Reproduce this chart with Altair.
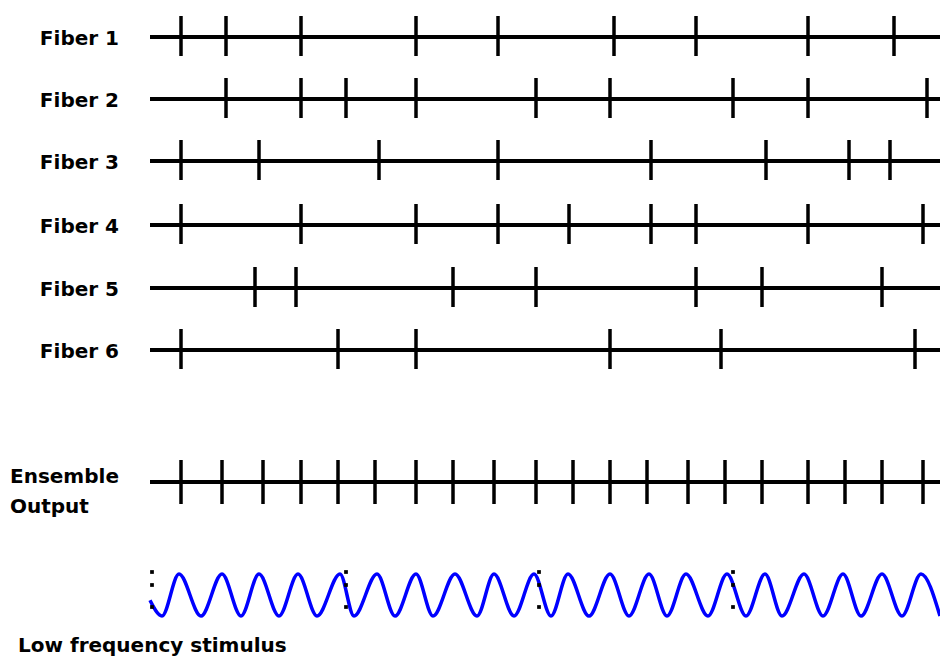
import altair as alt
import pandas as pd

# ---- data (times in ms) ----
fibers = ["Fiber 1", "Fiber 2", "Fiber 3", "Fiber 4", "Fiber 5", "Fiber 6"]
spikes_fiber1 = [7.75, 19.0, 37.75, 66.5, 87.0, 116.0, 136.5, 164.5, 186.0]
spikes_fiber2 = [19.0, 37.75, 49.0, 66.5, 96.5, 115.0, 145.75, 164.5, 194.25]
spikes_fiber3 = [7.75, 27.25, 57.25, 87.0, 125.25, 154.0, 174.75, 185.0]
spikes_fiber4 = [7.75, 37.75, 66.5, 87.0, 104.75, 125.25, 136.5, 164.5, 193.25]
spikes_fiber5 = [26.25, 36.5, 75.75, 96.5, 136.5, 153.0, 183.0]
spikes_fiber6 = [7.75, 47.0, 66.5, 115.0, 142.75, 191.25]
spikes_ensemble = [7.75, 18.0, 28.25, 37.75, 47.0, 56.25, 66.5, 75.75, 86.0, 96.5,
                   105.75, 115.0, 124.25, 134.5, 143.75, 153.0, 164.5, 173.75, 183.0, 193.25]

stim_peak_times = [7.25, 18.0, 27.25, 37.0, 47.5, 56.75, 66.5, 76.25, 86.0, 96.0,
                   104.5, 115.0, 124.75, 134.0, 144.25, 153.75, 163.5, 173.25, 183.0, 192.75]
stim_trough_times = [3.0, 12.75, 22.75, 32.25, 41.75, 51.0, 61.25, 70.75, 81.75, 91.0,
                     100.25, 109.75, 119.75, 129.25, 139.5, 149.0, 158.0, 168.25, 177.75,
                     188.0]
stim_edge_times = [0.0, 197.5]
stim_edge_values = [-0.25, -1.0]
marker_times = [0.5, 49.0, 97.25, 145.75]

T_END = 197.5

# ---- layout (page pixels) ----
row_y = [37, 99, 161, 225, 288, 350]
ens_y = 482
stim_mid, stim_amp = 595, 21
marker_dy = [-23, -10, 12]

all_spikes = [spikes_fiber1, spikes_fiber2, spikes_fiber3,
              spikes_fiber4, spikes_fiber5, spikes_fiber6]

spike_rows = []
for name, y, sp in zip(fibers, row_y, all_spikes):
    for t in sp:
        spike_rows.append({"row": name, "t": t, "y1": y - 21, "y2": y + 19})
for t in spikes_ensemble:
    spike_rows.append({"row": "Ensemble", "t": t, "y1": ens_y - 22, "y2": ens_y + 22})
spikes_df = pd.DataFrame(spike_rows)

lines_df = pd.DataFrame({"row": fibers + ["Ensemble"],
                         "y": row_y + [ens_y],
                         "t0": 0.0, "t1": T_END})

stim_pts = ([(t, 1.0) for t in stim_peak_times] + [(t, -1.0) for t in stim_trough_times]
            + list(zip(stim_edge_times, stim_edge_values)))
stim_df = pd.DataFrame(stim_pts, columns=["t", "v"]).sort_values("t")
stim_df["y"] = stim_mid - stim_amp * stim_df["v"]

marker_df = pd.DataFrame([{"t": t, "y": stim_mid + d} for t in marker_times for d in marker_dy])

labels_df = pd.DataFrame({"label": fibers, "y": [y + 8 for y in row_y]})
left_labels_df = pd.DataFrame({"label": ["Ensemble", "Output", "Low frequency stimulus"],
                               "y": [483, 513, 652],
                               "xp": [2, 2, 10]})

W, H = 932, 656
xs = alt.Scale(domain=[-35.5, 197.5], nice=False, zero=False)
ys = alt.Scale(domain=[8, 664], reverse=True, nice=False, zero=False)

hlines = alt.Chart(lines_df).mark_rule(color="black", strokeWidth=4, strokeCap="butt").encode(
    x=alt.X("t0:Q", scale=xs, axis=None), x2="t1:Q",
    y=alt.Y("y:Q", scale=ys, axis=None))

ticks = alt.Chart(spikes_df).mark_rule(color="black", strokeWidth=3.5, strokeCap="butt").encode(
    x=alt.X("t:Q", scale=xs, axis=None),
    y=alt.Y("y1:Q", scale=ys, axis=None), y2="y2:Q")

wave = alt.Chart(stim_df).mark_line(color="#0000FF", strokeWidth=3.5, interpolate="monotone").encode(
    x=alt.X("t:Q", scale=xs, axis=None),
    y=alt.Y("y:Q", scale=ys, axis=None))

markers = alt.Chart(marker_df).mark_square(color="black", size=14, opacity=1).encode(
    x=alt.X("t:Q", scale=xs, axis=None),
    y=alt.Y("y:Q", scale=ys, axis=None))

fiber_labels = alt.Chart(labels_df).mark_text(
    align="right", baseline="alphabetic", font="DejaVu Sans", fontWeight="bold",
    fontSize=20, color="black").encode(
    x=alt.value(111), y=alt.Y("y:Q", scale=ys, axis=None), text="label:N")

left_labels = alt.Chart(left_labels_df).mark_text(
    align="left", baseline="alphabetic", font="DejaVu Sans", fontWeight="bold",
    fontSize=20, color="black").encode(
    x=alt.X("xp:Q", scale=None), y=alt.Y("y:Q", scale=ys, axis=None), text="label:N")

chart = alt.layer(hlines, ticks, wave, markers, fiber_labels, left_labels).properties(
    width=W, height=H, padding=0, autosize=alt.AutoSizeParams(type="none"),
    background="white"
).configure_view(stroke=None)

chart.save("out.html", embed_options={"renderer": "svg", "actions": False})
